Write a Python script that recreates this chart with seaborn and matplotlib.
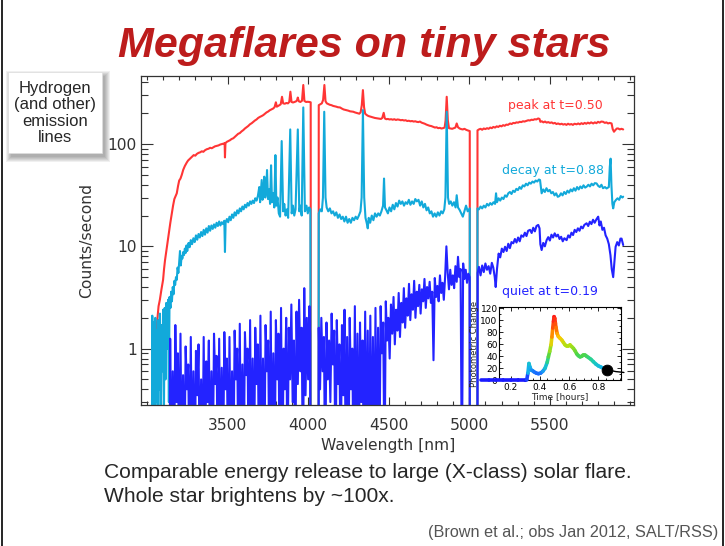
import numpy as np
import matplotlib
matplotlib.use("Agg")
import matplotlib.pyplot as plt
import seaborn as sns
from matplotlib.collections import LineCollection
from matplotlib.colors import LinearSegmentedColormap, Normalize
from matplotlib.patches import Rectangle
from matplotlib.lines import Line2D
from matplotlib.ticker import FixedLocator, FixedFormatter, LogLocator, NullFormatter, MultipleLocator

# ---------------- data ----------------
# (wavelength nm, counts/s); 0.01 marks the detector chip gaps
peak_pts = [
    (3033, 0.05), (3036, 0.8), (3042, 1.2), (3050, 1.36), (3058, 1.6), (3064, 1.9), (3072, 2.6), (3080, 3.0),
    (3090, 3.8), (3100, 4.7), (3106, 6.0), (3112, 7.3), (3120, 9.0), (3128, 11.0), (3136, 13.5), (3145, 17),
    (3154, 21), (3162, 25), (3170, 29), (3178, 31), (3185, 33), (3193, 39), (3200, 44), (3208, 46), (3216, 50),
    (3225, 56), (3235, 61), (3247, 66), (3255, 69), (3267, 72), (3278, 75), (3290, 78), (3300, 77), (3309, 80),
    (3320, 82), (3330, 83), (3340, 85), (3350, 84), (3360, 87), (3371, 89), (3382, 90), (3392, 92), (3402, 91),
    (3412, 93), (3422, 95), (3433, 96), (3444, 97), (3455, 99), (3465, 100), (3475, 101), (3482, 102), (3484, 74),
    (3487, 102), (3495, 105), (3505, 107), (3515, 109), (3525, 112), (3536, 114), (3546, 118), (3556, 122),
    (3566, 126), (3576, 128), (3587, 133), (3598, 137), (3608, 142), (3618, 146), (3628, 150), (3639, 156),
    (3650, 160), (3660, 165), (3670, 170), (3680, 174), (3690, 180), (3700, 184), (3712, 188), (3722, 192),
    (3732, 198), (3742, 204), (3752, 208), (3762, 214), (3772, 218), (3784, 223), (3792, 230), (3800, 256),
    (3806, 232), (3814, 236), (3822, 240), (3830, 245), (3838, 290), (3845, 250), (3855, 248), (3865, 252),
    (3875, 250), (3883, 258), (3890, 325), (3897, 258), (3906, 255), (3916, 258), (3926, 262), (3932, 270),
    (3936, 285), (3942, 262), (3952, 258), (3962, 265), (3970, 378), (3977, 264), (3987, 258), (3997, 259),
    (4007, 258), (4016, 256), (4017, 0.01), (4065, 0.01), (4066, 240), (4075, 245), (4085, 250), (4093, 270),
    (4101, 378), (4108, 262), (4116, 250), (4125, 246), (4135, 242), (4145, 240), (4155, 236), (4165, 234),
    (4175, 232), (4185, 229), (4198, 228), (4210, 222), (4220, 218), (4230, 216), (4240, 214), (4250, 212),
    (4260, 209), (4270, 208), (4280, 207), (4290, 204), (4300, 202), (4310, 200), (4318, 198), (4326, 205),
    (4333, 240), (4340, 337), (4347, 230), (4354, 198), (4364, 192), (4374, 188), (4384, 186), (4394, 184),
    (4404, 182), (4414, 180), (4424, 179), (4434, 178), (4444, 177), (4452, 176), (4460, 180), (4469, 202),
    (4476, 178), (4485, 175), (4495, 176), (4505, 174), (4515, 175), (4525, 173), (4535, 175), (4545, 172),
    (4555, 174), (4565, 173), (4575, 171), (4585, 172), (4595, 170), (4605, 171), (4615, 168), (4625, 169),
    (4635, 167), (4645, 168), (4655, 166), (4665, 167), (4674, 165), (4684, 164), (4694, 166), (4704, 162),
    (4714, 160), (4724, 158), (4734, 155), (4744, 153), (4754, 151), (4764, 150), (4777, 147), (4787, 145),
    (4797, 146), (4807, 143), (4817, 144), (4827, 142), (4837, 143), (4847, 145), (4853, 170), (4860, 290),
    (4867, 170), (4874, 143), (4884, 142), (4894, 141), (4904, 143), (4914, 145), (4922, 159), (4930, 146),
    (4940, 142), (4950, 140), (4960, 139), (4970, 141), (4980, 138), (4990, 136), (5003, 134), (5004, 0.01),
    (5050, 0.01), (5051, 136), (5060, 139), (5070, 141), (5080, 138), (5090, 142), (5100, 140), (5110, 143),
    (5120, 141), (5130, 145), (5140, 143), (5149, 147), (5160, 145), (5170, 149), (5180, 147), (5190, 151),
    (5200, 149), (5210, 153), (5220, 151), (5230, 155), (5240, 154), (5253, 159), (5263, 157), (5273, 161),
    (5283, 160), (5293, 163), (5303, 162), (5313, 165), (5323, 164), (5333, 167), (5343, 166), (5356, 169),
    (5366, 171), (5376, 170), (5386, 173), (5396, 172), (5406, 175), (5416, 174), (5428, 178), (5436, 176),
    (5441, 165), (5450, 167), (5460, 163), (5470, 166), (5480, 162), (5490, 164), (5501, 161), (5511, 163),
    (5521, 159), (5531, 161), (5541, 157), (5551, 159), (5563, 156), (5573, 158), (5583, 155), (5593, 157),
    (5603, 154), (5613, 158), (5623, 155), (5633, 157), (5643, 154), (5653, 158), (5666, 156), (5676, 159),
    (5686, 156), (5696, 160), (5706, 157), (5716, 161), (5726, 158), (5736, 162), (5746, 159), (5756, 163),
    (5769, 159), (5779, 163), (5789, 160), (5799, 165), (5809, 162), (5819, 166), (5831, 165), (5841, 161),
    (5851, 163), (5861, 159), (5871, 161), (5883, 159), (5890, 140), (5898, 132), (5908, 138), (5916, 142),
    (5924, 142), (5934, 139), (5944, 141), (5955, 139),
]

decay_pts = [
    (3030, 0.05), (3033, 2.1), (3038, 0.2), (3042, 1.8), (3047, 0.1), (3052, 2.0), (3057, 0.3), (3062, 1.5),
    (3066, 0.05), (3071, 1.9), (3076, 0.4), (3080, 2.2), (3085, 0.1), (3090, 1.7), (3095, 0.6), (3100, 2.4),
    (3105, 0.2), (3110, 2.5), (3115, 0.5), (3120, 2.8), (3126, 1.0), (3131, 3.0), (3136, 0.3), (3140, 3.2),
    (3146, 2.5), (3150, 3.6), (3155, 2.9), (3160, 4.0), (3165, 3.4), (3170, 4.6), (3175, 4.2), (3180, 5.0),
    (3185, 4.7), (3190, 6.2), (3195, 5.5), (3200, 7.0), (3205, 9.0), (3210, 6.5), (3215, 8.0), (3220, 7.6),
    (3225, 8.8), (3230, 8.2), (3235, 9.5), (3240, 8.6), (3245, 10.2), (3250, 9.0), (3258, 10.8), (3265, 9.8),
    (3272, 11.5), (3280, 10.5), (3288, 12.0), (3296, 11.0), (3304, 12.8), (3312, 11.6), (3320, 13.2),
    (3328, 12.2), (3336, 13.8), (3344, 12.6), (3352, 14.5), (3360, 13.0), (3368, 15.0), (3376, 13.6),
    (3384, 15.8), (3392, 14.2), (3400, 16.0), (3408, 14.8), (3416, 16.4), (3424, 15.2), (3432, 17.0),
    (3440, 15.8), (3448, 17.5), (3456, 16.0), (3464, 17.2), (3472, 16.5), (3480, 17.8), (3484, 8.8),
    (3488, 17.0), (3496, 18.5), (3504, 17.2), (3512, 19.5), (3520, 18.0), (3528, 20.5), (3536, 19.0),
    (3544, 21.5), (3552, 20.0), (3560, 22.5), (3568, 21.0), (3576, 23.5), (3584, 22.0), (3592, 24.5),
    (3600, 23.0), (3608, 25.5), (3616, 24.0), (3624, 26.5), (3632, 25.0), (3640, 27.5), (3648, 26.0),
    (3656, 28.0), (3664, 26.5), (3672, 29.5), (3680, 28.0), (3688, 31.0), (3697, 38.0), (3702, 27.0),
    (3712, 44.5), (3717, 28.5), (3722, 33.0), (3728, 48.0), (3734, 30.0), (3740, 35.0), (3745, 55.7),
    (3751, 29.0), (3758, 36.0), (3764, 26.0), (3770, 62.0), (3776, 27.0), (3784, 33.0), (3790, 24.0),
    (3797, 78.0), (3803, 25.0), (3810, 30.0), (3818, 21.0), (3826, 19.5), (3836, 107.0), (3845, 22.0),
    (3852, 26.0), (3860, 20.0), (3868, 23.0), (3876, 19.0), (3889, 139.0), (3898, 21.0), (3906, 25.0),
    (3914, 20.0), (3922, 23.0), (3936, 139.0), (3945, 22.0), (3952, 25.0), (3960, 20.0), (3970, 228.0),
    (3980, 22.0), (3990, 25.0), (3998, 21.0), (4006, 24.0), (4014, 23.0), (4016, 0.01), (4065, 0.01),
    (4066, 21.0), (4075, 23.0), (4085, 22.0), (4092, 30.0), (4100, 207.0), (4108, 30.0), (4115, 24.0),
    (4125, 22.0), (4135, 23.5), (4145, 21.0), (4155, 22.0), (4165, 20.0), (4175, 21.5), (4185, 19.0),
    (4195, 20.5), (4205, 18.5), (4215, 19.5), (4225, 17.5), (4235, 19.5), (4245, 17.0), (4255, 18.5),
    (4265, 17.0), (4275, 19.0), (4285, 18.0), (4295, 19.5), (4305, 18.5), (4315, 20.0), (4325, 22.0),
    (4332, 30.0), (4340, 215.0), (4348, 30.0), (4356, 19.0), (4364, 16.8), (4370, 15.0), (4376, 19.0),
    (4385, 17.0), (4395, 20.0), (4405, 18.0), (4415, 21.0), (4425, 19.5), (4435, 21.0), (4445, 20.0),
    (4455, 22.0), (4465, 25.0), (4471, 46.0), (4477, 24.0), (4485, 22.7), (4495, 21.0), (4505, 24.0),
    (4515, 22.0), (4525, 25.5), (4535, 23.0), (4545, 26.5), (4555, 24.5), (4565, 28.0), (4575, 26.0),
    (4585, 27.5), (4595, 25.0), (4605, 27.0), (4615, 26.0), (4625, 28.5), (4635, 25.5), (4645, 27.5),
    (4655, 26.0), (4665, 29.0), (4675, 27.5), (4685, 28.5), (4695, 25.0), (4705, 27.5), (4715, 24.0),
    (4725, 26.0), (4735, 22.5), (4745, 24.0), (4755, 21.0), (4765, 22.0), (4775, 19.5), (4785, 21.0),
    (4795, 19.5), (4805, 21.5), (4815, 20.0), (4825, 22.0), (4835, 21.0), (4845, 23.0), (4852, 30.0),
    (4860, 207.0), (4868, 30.0), (4875, 26.0), (4885, 27.5), (4895, 25.0), (4905, 27.0), (4915, 24.0),
    (4922, 31.6), (4930, 24.0), (4940, 22.7), (4950, 21.0), (4960, 19.5), (4970, 22.0), (4980, 25.0),
    (4990, 22.0), (5003, 23.5), (5004, 0.01), (5050, 0.01), (5051, 23.5), (5060, 23.0), (5070, 24.5),
    (5080, 23.5), (5090, 25.0), (5100, 24.0), (5110, 26.0), (5120, 25.0), (5130, 26.5), (5140, 25.5),
    (5150, 27.0), (5160, 26.0), (5166, 33.0), (5172, 27.0), (5182, 29.5), (5192, 28.0), (5202, 30.0),
    (5212, 29.0), (5222, 31.5), (5232, 30.5), (5242, 33.0), (5252, 34.0), (5262, 32.5), (5272, 35.0),
    (5282, 34.0), (5292, 36.5), (5302, 35.5), (5312, 38.0), (5322, 36.5), (5332, 39.5), (5342, 38.5),
    (5352, 41.0), (5362, 39.5), (5372, 42.0), (5382, 41.0), (5392, 43.0), (5402, 42.0), (5412, 44.0),
    (5422, 43.0), (5432, 45.0), (5439, 44.5), (5449, 33.0), (5459, 36.0), (5469, 34.0), (5479, 37.0),
    (5489, 34.5), (5499, 35.6), (5509, 33.0), (5519, 34.0), (5529, 31.5), (5539, 33.0), (5549, 30.5),
    (5559, 31.0), (5569, 33.0), (5579, 31.5), (5589, 34.0), (5599, 32.5), (5609, 35.0), (5619, 33.5),
    (5629, 36.0), (5639, 34.5), (5649, 37.0), (5659, 35.0), (5669, 38.0), (5679, 36.0), (5689, 38.5),
    (5699, 37.0), (5709, 39.5), (5719, 37.5), (5729, 38.4), (5739, 40.0), (5749, 38.5), (5759, 41.0),
    (5769, 39.5), (5779, 41.5), (5790, 41.2), (5800, 39.0), (5810, 38.0), (5820, 40.0), (5830, 37.0),
    (5842, 38.0), (5852, 36.8), (5866, 38.0), (5872, 60.0), (5877, 72.0), (5882, 40.0), (5888, 26.0),
    (5893, 23.5), (5900, 27.0), (5910, 28.4), (5920, 29.5), (5930, 28.5), (5940, 31.0), (5950, 30.0),
    (5955, 30.6),
]

quiet_pts = [
    (3140, 0.05), (3144, 1.25), (3152, 0.05), (3160, 0.6), (3168, 0.05), (3176, 1.7), (3184, 0.3),
    (3192, 0.9), (3200, 0.05), (3208, 1.4), (3216, 0.05), (3224, 0.55), (3232, 0.05), (3240, 1.05),
    (3248, 0.4), (3256, 0.7), (3264, 0.05), (3272, 1.3), (3280, 0.05), (3288, 0.6), (3296, 0.05),
    (3304, 0.95), (3312, 0.35), (3320, 1.1), (3328, 0.05), (3336, 0.5), (3344, 0.05), (3352, 1.3),
    (3360, 0.05), (3368, 0.75), (3376, 0.3), (3384, 1.2), (3392, 0.05), (3400, 0.6), (3408, 0.05),
    (3416, 1.4), (3424, 0.45), (3432, 0.85), (3440, 0.05), (3448, 1.25), (3456, 0.05), (3464, 0.65),
    (3472, 0.05), (3480, 1.45), (3488, 0.4), (3496, 0.8), (3504, 0.05), (3512, 1.3), (3520, 0.05),
    (3528, 0.6), (3536, 0.05), (3544, 1.5), (3552, 0.5), (3560, 1.0), (3568, 0.05), (3576, 1.75),
    (3584, 0.05), (3592, 0.7), (3600, 0.05), (3608, 1.45), (3616, 0.55), (3624, 1.0), (3632, 0.05),
    (3640, 1.9), (3648, 0.05), (3656, 0.8), (3664, 0.05), (3672, 1.6), (3680, 0.45), (3688, 1.1),
    (3696, 0.05), (3704, 2.1), (3712, 0.05), (3720, 0.8), (3728, 0.05), (3736, 1.7), (3744, 0.6),
    (3752, 1.2), (3760, 0.05), (3768, 2.3), (3776, 0.05), (3784, 0.9), (3792, 0.05), (3800, 1.9),
    (3808, 0.5), (3816, 1.4), (3824, 0.05), (3832, 2.5), (3840, 0.05), (3848, 1.0), (3856, 0.4),
    (3864, 2.0), (3872, 0.05), (3880, 1.6), (3888, 0.5), (3896, 2.7), (3904, 0.3), (3912, 1.2),
    (3920, 0.05), (3928, 2.3), (3936, 0.45), (3944, 3.0), (3952, 0.6), (3960, 1.6), (3968, 0.05),
    (3976, 3.9), (3984, 0.35), (3992, 2.0), (4000, 0.5), (4008, 2.6), (4012, 1.4), (4015, 0.01),
    (4064, 0.01),
    (4066, 1.6), (4074, 0.4), (4082, 2.0), (4090, 0.6), (4098, 1.3), (4106, 0.05), (4114, 1.8),
    (4122, 0.5), (4130, 1.2), (4138, 0.3), (4146, 2.2), (4154, 0.7), (4162, 1.5), (4170, 0.05),
    (4178, 1.9), (4186, 0.45), (4194, 1.1), (4202, 0.05), (4210, 1.7), (4218, 0.35), (4226, 2.4),
    (4234, 0.05), (4242, 1.3), (4250, 0.05), (4258, 2.0), (4266, 0.4), (4274, 1.0), (4282, 0.05),
    (4290, 2.6), (4298, 0.05), (4306, 1.4), (4314, 0.05), (4322, 1.8), (4330, 0.3), (4338, 1.2),
    (4346, 0.05), (4354, 2.3), (4362, 0.05), (4370, 1.5), (4378, 0.05), (4386, 2.1), (4394, 0.05),
    (4402, 1.3), (4410, 0.05), (4418, 2.5), (4426, 0.05), (4434, 1.6), (4442, 0.05), (4450, 2.6),
    (4458, 0.9), (4466, 1.8), (4474, 0.05), (4482, 2.9), (4490, 1.2), (4498, 2.0), (4506, 0.8),
    (4514, 2.7), (4522, 1.4), (4530, 3.2), (4538, 1.1), (4546, 2.4), (4554, 1.5), (4562, 3.5),
    (4570, 1.3), (4578, 2.8), (4586, 1.8), (4594, 3.9), (4602, 1.6), (4610, 3.1), (4618, 2.1),
    (4626, 4.3), (4634, 1.9), (4642, 3.4), (4650, 2.4), (4658, 4.6), (4666, 2.0), (4674, 3.6),
    (4682, 2.6), (4690, 4.2), (4698, 2.2), (4706, 3.8), (4714, 2.9), (4722, 4.8), (4730, 2.5),
    (4738, 4.0), (4746, 3.1), (4754, 4.5), (4762, 2.8), (4770, 3.6), (4778, 0.77), (4786, 4.9),
    (4794, 3.2), (4802, 4.1), (4810, 2.9), (4818, 5.2), (4826, 3.5), (4834, 4.4), (4842, 3.0),
    (4850, 5.0), (4858, 10.0), (4866, 5.5), (4874, 3.8), (4882, 5.9), (4890, 4.2), (4898, 5.2),
    (4906, 3.9), (4914, 6.4), (4922, 4.5), (4930, 7.9), (4938, 5.0), (4946, 6.0), (4954, 0.05),
    (4962, 6.8), (4970, 4.8), (4978, 5.9), (4986, 4.4), (4994, 5.4), (5002, 5.0), (5004, 0.01),
    (5050, 0.01),
    (5052, 5.5), (5060, 6.3), (5070, 5.2), (5080, 6.5), (5090, 5.6), (5100, 6.8), (5110, 5.9),
    (5120, 6.4), (5130, 5.4), (5140, 6.9), (5149, 6.2), (5158, 5.0), (5164, 4.0), (5172, 6.0),
    (5182, 8.5), (5192, 7.8), (5202, 9.5), (5212, 8.8), (5222, 9.9), (5232, 9.0), (5242, 10.6),
    (5252, 9.6), (5262, 11.0), (5273, 10.7), (5283, 11.8), (5293, 10.9), (5303, 12.2), (5313, 11.2),
    (5323, 12.8), (5335, 12.4), (5345, 13.6), (5355, 12.6), (5365, 14.2), (5377, 14.5), (5387, 13.5),
    (5397, 15.2), (5407, 14.0), (5417, 15.8), (5428, 16.2), (5436, 15.0), (5441, 10.5), (5449, 9.2),
    (5459, 10.8), (5469, 10.0), (5480, 11.5), (5490, 12.3), (5500, 11.4), (5510, 13.0), (5520, 12.2),
    (5530, 13.4), (5540, 12.5), (5550, 13.0), (5560, 11.8), (5570, 12.4), (5580, 11.2), (5590, 12.0),
    (5604, 11.5), (5614, 12.8), (5624, 12.2), (5634, 13.6), (5644, 12.9), (5654, 14.5), (5664, 13.8),
    (5674, 15.0), (5684, 14.2), (5694, 15.6), (5704, 15.0), (5714, 16.2), (5728, 16.8), (5738, 15.8),
    (5748, 17.4), (5758, 16.5), (5768, 18.2), (5778, 17.0), (5790, 18.5), (5800, 19.5), (5808, 16.0),
    (5816, 17.5), (5826, 14.5), (5836, 15.2), (5846, 12.8), (5856, 11.9), (5866, 10.5), (5876, 8.2),
    (5884, 6.0), (5893, 5.0), (5900, 6.8), (5908, 9.9), (5918, 11.0), (5928, 10.2), (5938, 11.9),
    (5945, 11.9), (5955, 10.3),
]

# flare light curve (time [hours], photometric change)
flare_pts = [
    (0.0, 0), (0.05, 0), (0.1, 0), (0.15, 0), (0.2, 0), (0.25, 0), (0.3, 0), (0.31, 1), (0.318, 12),
    (0.325, 28), (0.332, 22), (0.34, 17), (0.35, 16), (0.36, 14), (0.375, 12), (0.39, 11), (0.405, 12),
    (0.42, 15), (0.435, 20), (0.45, 30), (0.458, 39), (0.467, 48), (0.476, 59), (0.482, 72), (0.488, 87),
    (0.493, 98), (0.497, 106), (0.502, 103), (0.506, 95), (0.51, 88), (0.518, 78), (0.526, 73), (0.538, 70),
    (0.55, 67), (0.561, 63), (0.572, 59), (0.583, 57), (0.595, 57), (0.606, 59), (0.618, 56), (0.63, 53),
    (0.641, 49), (0.652, 44), (0.663, 41), (0.675, 39), (0.686, 40), (0.698, 42), (0.709, 42), (0.72, 40),
    (0.732, 38), (0.749, 35), (0.766, 31), (0.783, 27), (0.8, 24), (0.818, 22), (0.835, 20), (0.85, 18),
    (0.862, 17),
]
flare_after = [(0.862, 17), (0.88, 16.5), (0.9, 15.5), (0.92, 14.5), (0.94, 14), (0.96, 13.5), (0.975, 13)]
flare_marker = (0.862, 17)

spectrum_labels = ["peak at t=0.50", "decay at t=0.88", "quiet at t=0.19"]
label_pos = [(5238, 240), (5201, 55.7), (5201, 3.6)]
x_ticks = [3500, 4000, 4500, 5000, 5500]
y_ticks = [1, 10, 100]
y_ticklabels = ["1", "10", "100"]
inset_xticks = [0.2, 0.4, 0.6, 0.8]
inset_yticks = [0, 20, 40, 60, 80, 100, 120]

RED = "#ff3535"
CYAN = "#12a9da"
BLUE = "#2323ff"
GRAY = "#333333"

# ---------------- figure ----------------
sns.set_style("ticks")
plt.rcParams["font.family"] = ["DejaVu Sans"]

W, H = 725, 546
fig = plt.figure(figsize=(W / 100, H / 100), dpi=100)
fig.patch.set_facecolor("white")


def fx(px):
    return px / W


def fy(py):
    return 1 - py / H


L, R, T, B = 141, 634.3, 75.7, 405
ax = fig.add_axes([fx(L), fy(B), (R - L) / W, (B - T) / H])
ax.set_yscale("log")

for pts, col in [(peak_pts, RED), (decay_pts, CYAN), (quiet_pts, BLUE)]:
    wl = np.array([p[0] for p in pts], dtype=float)
    val = np.array([p[1] for p in pts], dtype=float)
    sns.lineplot(x=wl, y=val, ax=ax, color=col, linewidth=1.5, sort=False,
                 estimator=None, legend=False)

ax.set_xlim(2963, 6024)
ax.set_ylim(0.281, 466)
ax.xaxis.set_major_locator(FixedLocator(x_ticks))
ax.xaxis.set_minor_locator(MultipleLocator(100))
ax.yaxis.set_major_locator(FixedLocator(y_ticks))
ax.yaxis.set_major_formatter(FixedFormatter(y_ticklabels))
ax.yaxis.set_minor_locator(LogLocator(base=10, subs=[2, 3, 4, 5, 6, 7, 8, 9]))
ax.yaxis.set_minor_formatter(NullFormatter())
ax.tick_params(which="both", direction="in", top=True, right=True, colors=GRAY,
               labelsize=11.2, labelcolor=GRAY, width=0.8)
ax.tick_params(axis="y", which="major", length=8.5, pad=3)
ax.tick_params(axis="y", which="minor", length=5)
ax.tick_params(axis="x", which="major", length=5.5, pad=9)
ax.tick_params(axis="x", which="minor", length=3)
for s in ax.spines.values():
    s.set_color(GRAY)
    s.set_linewidth(0.9)
ax.set_xlabel("Wavelength [nm]", fontsize=11.2, color=GRAY, labelpad=4)
ax.set_ylabel("Counts/second", fontsize=11.2, color=GRAY, labelpad=10)

for txt, (xw, yv), col in zip(spectrum_labels, label_pos, [RED, CYAN, BLUE]):
    ax.text(xw, yv, txt, color=col, fontsize=9, va="center", ha="left")

# ---------------- inset light curve ----------------
iL, iR, iT, iB = 499, 620.7, 306.7, 380.3
ins = fig.add_axes([fx(iL), fy(iB), (iR - iL) / W, (iB - iT) / H])
ins.set_facecolor("white")
ins.set_xlim(0.12, 0.953)
ins.set_ylim(0, 122.6)

cmap = LinearSegmentedColormap.from_list(
    "flare", [(0.0, "#1a1aff"), (0.11, "#1a6cff"), (0.19, "#12b4ea"), (0.29, "#1ccfb0"),
              (0.4, "#4ed646"), (0.55, "#b4e012"), (0.67, "#ffc800"), (0.8, "#ff7000"),
              (1.0, "#ff1a1a")])
norm = Normalize(0, 105)
ft = np.array([p[0] for p in flare_pts])
fv = np.array([p[1] for p in flare_pts], dtype=float)
segs = np.stack([np.column_stack([ft[:-1], fv[:-1]]), np.column_stack([ft[1:], fv[1:]])], axis=1)
lc = LineCollection(segs, colors=cmap(norm((fv[:-1] + fv[1:]) / 2)), linewidths=2.6,
                    capstyle="round", joinstyle="round", clip_on=False, zorder=3)
ins.add_collection(lc)
sns.lineplot(x=[p[0] for p in flare_after], y=[p[1] for p in flare_after], ax=ins,
             color="black", linewidth=1.0, sort=False, estimator=None, legend=False)
for l in ins.get_lines():
    l.set_clip_on(False)
sns.scatterplot(x=[flare_marker[0]], y=[flare_marker[1]], ax=ins, color="black", s=60,
                edgecolor="black", zorder=5, legend=False, clip_on=False)

ins.xaxis.set_major_locator(FixedLocator(inset_xticks))
ins.yaxis.set_major_locator(FixedLocator(inset_yticks))
ins.xaxis.set_minor_locator(MultipleLocator(0.05))
ins.yaxis.set_minor_locator(MultipleLocator(10))
ins.tick_params(which="both", direction="in", top=True, right=True, labelsize=6.5,
                colors="black", width=0.6)
ins.tick_params(which="major", length=3, pad=2)
ins.tick_params(which="minor", length=1.5)
ins.tick_params(axis="y", pad=1)
for s in ins.spines.values():
    s.set_color("black")
    s.set_linewidth(0.8)
ins.set_xlabel("Time [hours]", fontsize=6.5, labelpad=0)
ins.set_ylabel("Photometric Change", fontsize=6, labelpad=1)

# ---------------- slide decorations ----------------
fig.text(fx(364), fy(57), "Megaflares on tiny stars", ha="center", va="baseline",
         fontsize=31, fontweight="bold", fontstyle="italic", color="#bd1c1c",
         family=["Liberation Sans", "DejaVu Sans"])

bx0, bx1, by0, by1 = 8, 102, 72, 153
for k in range(6):
    fig.add_artist(Rectangle((fx(bx0 + 3 - k), fy(by1 + 4 + k)), (bx1 - bx0 + 2 * k) / W,
                             (by1 - by0 + 2 * k) / H, transform=fig.transFigure,
                             facecolor="black", edgecolor="none", alpha=0.06, zorder=1))
fig.add_artist(Rectangle((fx(bx0), fy(by1)), (bx1 - bx0) / W, (by1 - by0) / H,
                         transform=fig.transFigure, facecolor="white", edgecolor="#dddddd",
                         linewidth=0.5, zorder=2))
fig.text(fx((bx0 + bx1) / 2), fy((by0 + by1) / 2 + 0.5), "Hydrogen\n(and other)\nemission\nlines",
         ha="center", va="center", fontsize=12, linespacing=1.12, zorder=3,
         family=["Liberation Sans", "DejaVu Sans"])

fig.text(fx(104), fy(472), "Comparable energy release to large (X-class) solar flare.",
         ha="left", va="center", fontsize=15.1, family=["Liberation Sans", "DejaVu Sans"])
fig.text(fx(104), fy(496), "Whole star brightens by ~100x.",
         ha="left", va="center", fontsize=15.1, family=["Liberation Sans", "DejaVu Sans"])
fig.text(fx(718), fy(532), "(Brown et al.; obs Jan 2012, SALT/RSS)", ha="right", va="center",
         fontsize=11.7, color="#555555", family=["Liberation Sans", "DejaVu Sans"])

for xp in (1.5, 722.5):
    fig.add_artist(Line2D([fx(xp), fx(xp)], [0, 1], transform=fig.transFigure,
                          color="black", linewidth=1.2))

fig.savefig("out.png", dpi=100)
